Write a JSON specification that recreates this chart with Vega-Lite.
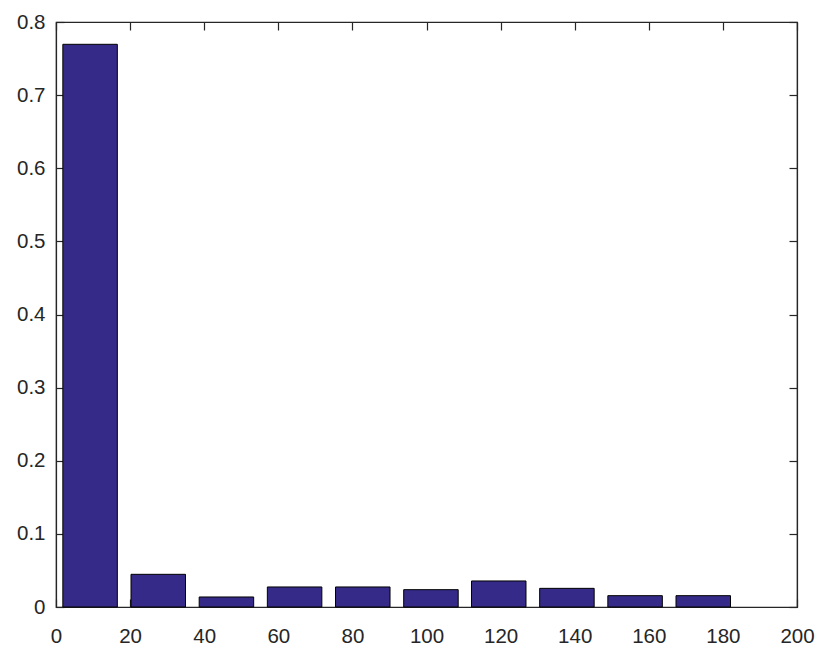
{
  "$schema": "https://vega.github.io/schema/vega-lite/v6.json",
  "width": 741,
  "height": 585,
  "autosize": {"type": "none"},
  "padding": {"left": 56, "top": 22, "right": 34, "bottom": 50},
  "background": "white",
  "config": {
    "view": {"stroke": "#262626", "strokeWidth": 1.2},
    "axis": {
      "grid": false,
      "domainColor": "#262626",
      "domainWidth": 1.2,
      "tickColor": "#262626",
      "tickWidth": 1.2,
      "labelColor": "#262626",
      "labelFont": "Liberation Sans",
      "labelFontSize": 20.5,
      "tickSize": -8,
      "title": null
    }
  },
  "data": {
    "values": [
      {"center": 9.2, "frac": 0.7695},
      {"center": 27.6, "frac": 0.0447},
      {"center": 46.0, "frac": 0.0137},
      {"center": 64.4, "frac": 0.0274},
      {"center": 82.8, "frac": 0.0274},
      {"center": 101.2, "frac": 0.0237},
      {"center": 119.5, "frac": 0.0356},
      {"center": 137.9, "frac": 0.0255},
      {"center": 156.3, "frac": 0.0155},
      {"center": 174.7, "frac": 0.0155}
    ]
  },
  "layer": [
    {
      "mark": {"type": "bar", "size": 54.5, "color": "#352a87", "stroke": "#000000", "strokeWidth": 1},
      "encoding": {
        "x": {"field": "center", "type": "quantitative", "scale": {"domain": [0, 200], "nice": false, "padding": 0},
          "axis": {"orient": "bottom", "values": [0,20,40,60,80,100,120,140,160,180,200], "labelPadding": 27, "labelFlush": false}},
        "y": {"field": "frac", "type": "quantitative", "scale": {"domain": [0, 0.8], "nice": false, "padding": 0},
          "axis": {"orient": "left", "values": [0,0.1,0.2,0.3,0.4,0.5,0.6,0.7,0.8], "format": ".1~f", "labelPadding": 19, "labelFlush": false}}
      }
    },
    {
      "mark": {"type": "bar", "size": 54.5, "opacity": 0},
      "encoding": {
        "x": {"field": "center", "type": "quantitative",
          "axis": {"orient": "top", "values": [0,20,40,60,80,100,120,140,160,180,200], "labels": false}},
        "y": {"field": "frac", "type": "quantitative",
          "axis": {"orient": "right", "values": [0,0.1,0.2,0.3,0.4,0.5,0.6,0.7,0.8], "labels": false}}
      }
    }
  ],
  "resolve": {"axis": {"x": "independent", "y": "independent"}}
}
